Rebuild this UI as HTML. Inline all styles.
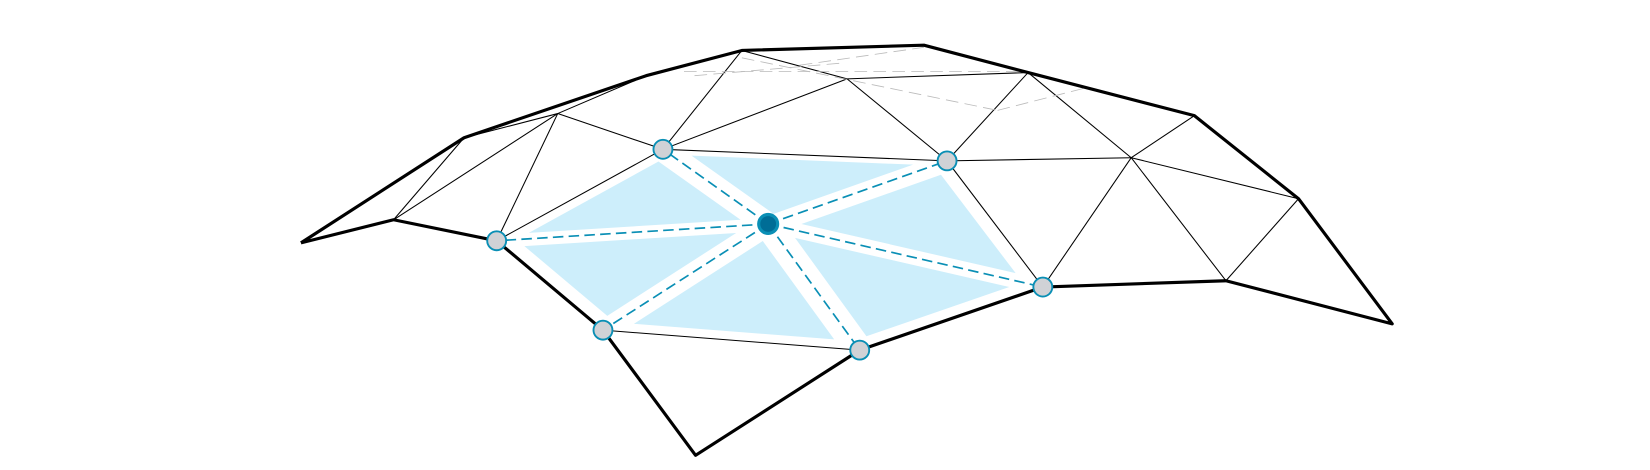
<!DOCTYPE html>
<html><head><meta charset="utf-8"><style>
html,body{margin:0;padding:0;background:#fff;width:1650px;height:470px;overflow:hidden}
svg{display:block}
</style></head><body>
<svg id="mesh" width="1650" height="470" viewBox="0 0 1568 447" preserveAspectRatio="none" xmlns="http://www.w3.org/2000/svg"></svg>
<script>
const vx = {A:[286,231],B:[374,209],C:[472,229],D:[573,314],E:[661,433],F:[817,333],G:[991,273],H:[1165,267],I:[1323,308],J:[1234,189],K:[1135,110],L:[977,69],M:[878,43],N:[705,48],O:[614,72],P:[441,131],Q:[530,108],R:[630,142],S:[730,213],T:[900,153],U:[1075,150],V:[805,75]};
const boundary = ['A','P','O','N','M','L','K','J','I','H','G','F','E','D','C','B','A'];
const edges = [['B','P'],['B','Q'],['P','Q'],['Q','O'],['Q','C'],['Q','R'],['R','N'],['R','C'],['R','T'],['R','V'],['V','N'],['V','L'],['V','T'],['T','L'],['T','U'],['U','L'],['U','K'],['U','J'],['U','H'],['T','G'],['G','U'],['H','J'],['D','F'],['C','D'],['F','G'],['N','M'],['M','L']];
const hidden = [[[650,68],[975,68]],[[705,55],[948,105]],[[948,105],[1030,84]],[[760,62],[878,45]],[[660,72],[800,60]]];
const ring = ['R','T','G','F','D','C'];
const centre = 'S';
const svg = document.getElementById('mesh');
const NS='http://www.w3.org/2000/svg';
function mk(t,a){const e=document.createElementNS(NS,t);for(const k in a)e.setAttribute(k,a[k]);svg.appendChild(e);return e;}
function inset(p,c,d){return [c[0]+(p[0]-c[0])*d,c[1]+(p[1]-c[1])*d];}
for(let i=0;i<ring.length;i++){
  const a=vx[ring[i]],b=vx[ring[(i+1)%ring.length]],s=vx[centre];
  const cx=(a[0]+b[0]+s[0])/3,cy=(a[1]+b[1]+s[1])/3;
  const pts=[a,b,s].map(p=>inset(p,[cx,cy],0.78)).map(p=>p.join(',')).join(' ');
  const t=mk('polygon',{points:pts,fill:'#cdeefb'});
  
  
}
for(const [a,b] of edges){
  const l=mk('line',{x1:vx[a][0],y1:vx[a][1],x2:vx[b][0],y2:vx[b][1],stroke:'#000','stroke-width':1});
  
  
}
for(const [p,q] of hidden){
  const l=mk('line',{x1:p[0],y1:p[1],x2:q[0],y2:q[1],stroke:'#bbb','stroke-width':0.8,'stroke-dasharray':'12 6'});
  
  
}
const bd=mk('polyline',{points:boundary.map(k=>vx[k].join(',')).join(' '),fill:'none',stroke:'#000','stroke-width':3,'stroke-linejoin':'round'});


for(const k of ring){
  const l=mk('line',{x1:vx[centre][0],y1:vx[centre][1],x2:vx[k][0],y2:vx[k][1],stroke:'#0a8fb5','stroke-width':1.6,'stroke-dasharray':'10 5'});
  
  
}
for(const k of ring){
  const c=mk('circle',{cx:vx[k][0],cy:vx[k][1],r:9,fill:'#d0d2d6',stroke:'#0a8fb5','stroke-width':1.8});
  
  
}
const cc=mk('circle',{cx:vx[centre][0],cy:vx[centre][1],r:9,fill:'#006d96',stroke:'#0a8fb5','stroke-width':3});


</script>
</body></html>
